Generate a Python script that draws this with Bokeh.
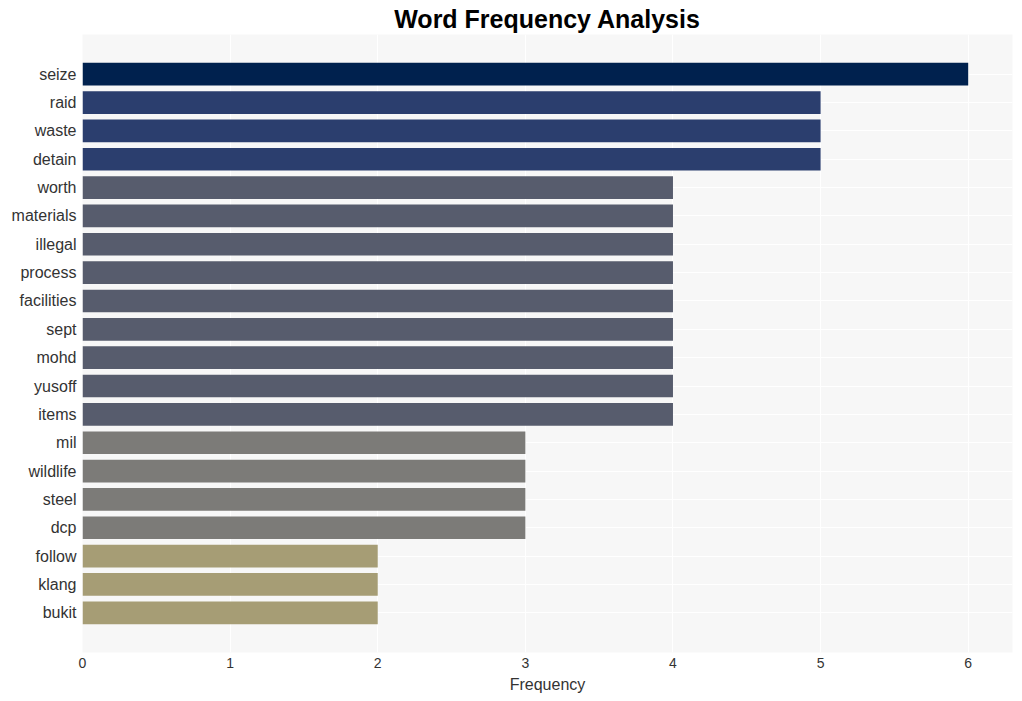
from bokeh.plotting import figure
from bokeh.models import Range1d, FactorRange, ColumnDataSource
from bokeh.embed import file_html
from bokeh.resources import INLINE

words = ["seize", "raid", "waste", "detain", "worth", "materials", "illegal", "process",
         "facilities", "sept", "mohd", "yusoff", "items", "mil", "wildlife", "steel",
         "dcp", "follow", "klang", "bukit"]
counts = [6, 5, 5, 5, 4, 4, 4, 4, 4, 4, 4, 4, 4, 3, 3, 3, 3, 2, 2, 2]
color_by_count = {6: "#00214e", 5: "#2b3e6e", 4: "#575c6d", 3: "#7c7b78", 2: "#a69d75"}
colors = [color_by_count[c] for c in counts]

source = ColumnDataSource(dict(word=words, count=counts, color=colors))

p = figure(width=1022, height=701, output_backend="svg", toolbar_location=None,
           y_range=FactorRange(factors=list(reversed(words)), range_padding=0.09),
           x_range=Range1d(0, 6.3),
           title="Word Frequency Analysis",
           min_border_left=82, min_border_right=10, min_border_top=6, min_border_bottom=49)

p.hbar(y="word", right="count", left=0, height=0.8, fill_color="color",
       line_color=None, source=source)

p.title.align = "center"
p.title.text_font = "Liberation Sans"
p.title.text_font_size = "25px"
p.title.text_font_style = "bold"
p.title.text_color = "#000000"
p.title.standoff = 4

p.background_fill_color = "#f7f7f7"
p.border_fill_color = "#ffffff"
p.outline_line_color = None

p.xgrid.grid_line_color = "#ffffff"
p.ygrid.grid_line_color = "#ffffff"
p.xgrid.grid_line_width = 1
p.ygrid.grid_line_width = 1

for ax in (p.xaxis, p.yaxis):
    ax.axis_line_color = None
    ax.major_tick_line_color = None
    ax.minor_tick_line_color = None
    ax.major_tick_out = 0
    ax.major_tick_in = 0
    ax.major_label_text_font = "Liberation Sans"
    ax.major_label_text_color = "#333333"

p.yaxis.major_label_text_font_size = "16px"
p.yaxis.major_label_standoff = 6
p.xaxis.major_label_text_font_size = "14px"
p.xaxis.major_label_standoff = 5
p.xaxis.ticker = [0, 1, 2, 3, 4, 5, 6]
p.xaxis.axis_label = "Frequency"
p.xaxis.axis_label_text_font = "Liberation Sans"
p.xaxis.axis_label_text_font_size = "16px"
p.xaxis.axis_label_text_font_style = "normal"
p.xaxis.axis_label_text_color = "#333333"
p.xaxis.axis_label_standoff = 5

open("out.html", "w").write(file_html(p, INLINE))
